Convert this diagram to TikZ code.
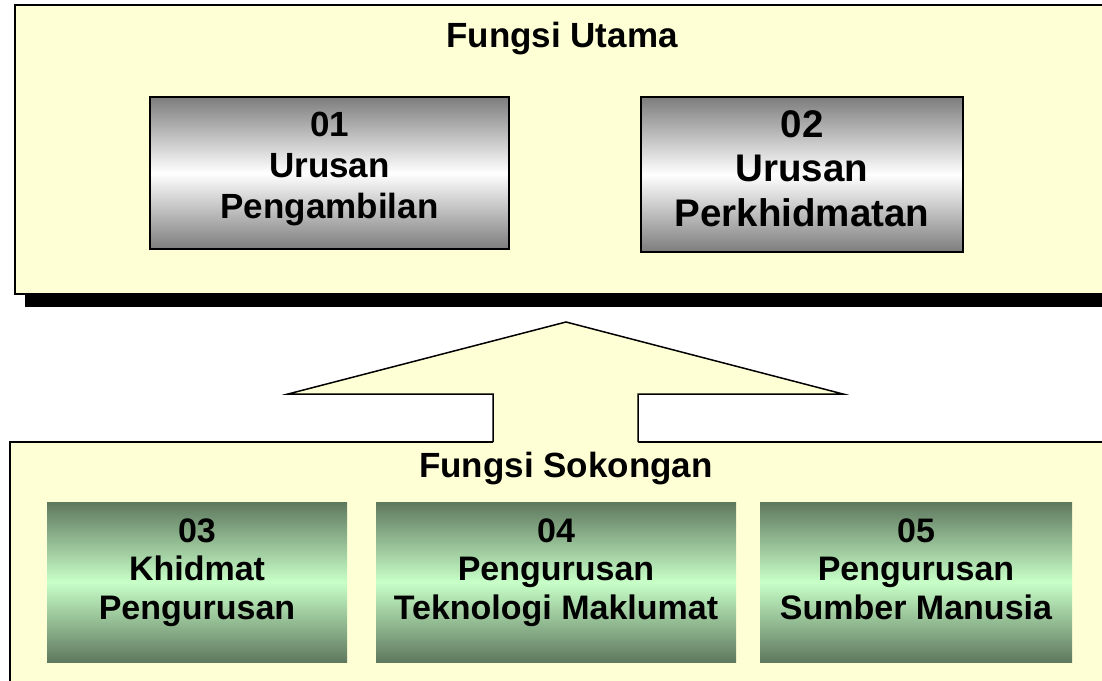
\documentclass[tikz,border=0pt]{standalone}
\usepackage{fontspec}
\setmainfont{Liberation Sans}
\usepackage{tikz}
\usetikzlibrary{positioning}
\usepackage{xcolor}
\definecolor{cream}{RGB}{255, 255, 213}
\definecolor{steel}{RGB}{125, 125, 125}
\definecolor{moss}{RGB}{94, 120, 94}
\definecolor{mint}{RGB}{200, 255, 200}

\begin{document}
\begin{tikzpicture}[x=.5pt,y=-.5pt,
  panel/.style={draw=black,line width=1pt,fill=cream},
  greybox/.style={draw=black,line width=1pt,top color=steel,bottom color=steel,middle color=white,inner sep=0pt},
  greenbox/.style={top color=moss,bottom color=moss,middle color=mint,inner sep=0pt},
  heading/.style={font=\bfseries\fontsize{17.5}{20.5}\selectfont,anchor=base,inner sep=0pt},
  boxtext/.style={align=center,anchor=north,inner sep=0pt,font=\bfseries\fontsize{17.5}{20.5}\selectfont}]
\useasboundingbox (0,0) rectangle (1102,680);

\fill(25,15) rectangle (1130,307);
\draw[panel](15,5) rectangle (1130,294);
\draw[panel](10,442) rectangle (1130,700);

\fill[cream](493,444)--(493,394)--(288,394)--(566,322)--(843,394)--(638,394)--(638,444)--cycle;
\draw[line width=.75pt](493,442)--(493,394)--(288,394)--(566,322)--(843,394)--(638,394)--(638,442);

\node[heading] (utama) at (562,47) {Fungsi Utama};
\node[heading] (sokongan) at (566,477) {Fungsi Sokongan};

\node[greybox,minimum width=179.5pt,minimum height=76pt] (b01) at (329.5,173) {};
\node[greybox,minimum width=161pt,minimum height=77.5pt] (b02) at (802,174.5) {};

\node[greenbox,minimum width=150pt,minimum height=80pt] (b03) at (197,582) {};
\node[greenbox,minimum width=180pt,minimum height=80pt] (b04) at (556,582) {};
\node[greenbox,minimum width=156pt,minimum height=80pt] (b05) at (916,582) {};

\node[boxtext] (t01) at (329.5,111.5) {01\\Urusan\\Pengambilan};
\node[boxtext,font=\bfseries\fontsize{19.25}{22.25}\selectfont] (t02) at (802,110) {02\\Urusan\\Perkhidmatan};

\node[boxtext,font=\bfseries\fontsize{17}{19.25}\selectfont] (t03) at (197,518) {03\\Khidmat\\Pengurusan};
\node[boxtext,font=\bfseries\fontsize{17}{19.25}\selectfont] (t04) at (556,518) {04\\Pengurusan\\Teknologi Maklumat};
\node[boxtext,font=\bfseries\fontsize{17}{19.25}\selectfont] (t05) at (916,518) {05\\Pengurusan\\Sumber Manusia};

\end{tikzpicture}
\end{document}
